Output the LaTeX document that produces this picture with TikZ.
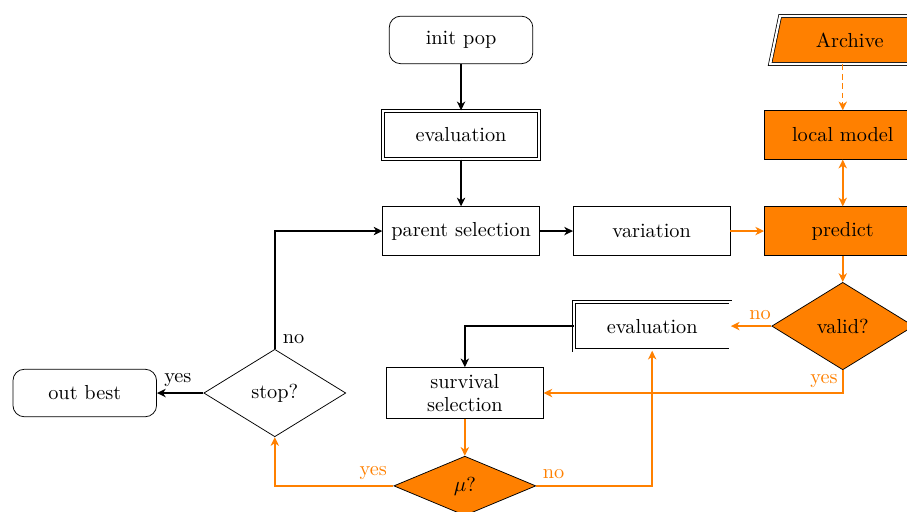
\documentclass[tikz,border=0pt]{standalone}
\usepackage{xcolor}
\usepackage{amsmath}
\usepackage{tikz}
\usetikzlibrary{shapes.geometric,arrows.meta}
\usetikzlibrary{positioning,calc}
\definecolor{SAEA_orange}{RGB}{255,128,0}
\tikzset{
  proc/.style={draw, rectangle, minimum width=2.9cm, minimum height=0.9cm, align=center},
  evalbox/.style={proc, double, double distance=1.2pt},
  term/.style={draw, rectangle, rounded corners=6pt, minimum width=2.66cm, minimum height=0.88cm},
  decision/.style={draw, diamond, minimum width=2.63cm, minimum height=1.62cm, inner sep=0pt},
  surr/.style={fill=SAEA_orange},
  flow/.style={->, >={Stealth[length=4.6pt, width=4.4pt, inset=1.4pt]}, line width=0.9pt},
  sflow/.style={flow, SAEA_orange},
}

\begin{document}
\begin{tikzpicture}[font=\fontsize{10.7pt}{12.6pt}\selectfont]
        \useasboundingbox (0,0) rectangle (16.8,9.48);
        % EA loop
        \node[term] (init) at (8.54,8.74) {init pop};
        \node[evalbox] (eval) at (8.54,6.98) {evaluation};
        \node[proc] (parent) at (8.54,5.20) {parent selection};
        \node[proc] (variation) at (12.07,5.20) {variation};
        \node[proc, minimum height=0.94cm] (survival) at (8.61,2.20) {survival\\selection};
        \node[decision] (stop) at (5.09,2.20) {stop?};
        \node[term] (out) at (1.57,2.20) {out best};
        % Surrogate part
        \node[draw, trapezium, trapezium left angle=70, trapezium right angle=110,
              trapezium stretches body, minimum width=2.95cm, minimum height=0.89cm,
              double, double distance=1.2pt, surr] (archive) at (15.74,8.74) {Archive};
        \node[proc, surr] (model) at (15.61,6.98) {local model};
        \node[proc, surr] (predict) at (15.61,5.20) {predict};
        \node[decision, surr] (valid) at (15.61,3.44) {valid?};
        \node[evalbox] (reeval) at (12.08,3.44) {evaluation};
        \node[decision, surr, minimum height=1.1cm] (mu) at (8.61,0.48) {$\mu$?};
        % Draw edges
        \draw[flow] (init) -- (eval);
        \draw[flow] (eval) -- (parent);
        \draw[flow] (parent) -- (variation);
        \draw[sflow] (variation) -- (predict);
        \draw[sflow, dash pattern=on 3pt off 2pt, line width=0.6pt] (archive.south -| model.north) -- (model.north);
        \draw[sflow, <->] (model) -- (predict);
        \draw[sflow] (predict) -- (valid);
        \draw[sflow] (valid) -- (reeval);
        \draw[sflow] (valid.south) |- (survival.east);
        \draw[flow] (reeval.west) -| (survival.north);
        \draw[sflow] (survival) -- (mu);
        \draw[sflow] (mu.east) -| (reeval.south);
        \draw[sflow] (mu.west) -| (stop.south);
        \draw[flow] (stop.north) |- (parent.west);
        \draw[flow] (stop.west) -- (out.east);
        % Label edges
        \node[above, SAEA_orange] (validno) at ($(valid.west)!0.28!(reeval.east)$) {no};
        \node[above left, SAEA_orange, inner sep=2.5pt] (validyes) at (valid.south |- survival.east) {yes};
        \node[above right, SAEA_orange] (muno) at (mu.east) {no};
        \node[above left, SAEA_orange] (muyes) at (mu.west) {yes};
        \node[above right, inner sep=2pt] (stopno) at ($(stop.north)+(0.07,0.02)$) {no};
        \node[above] (stopyes) at ($(stop.west)!0.55!(out.east)$) {yes};
\end{tikzpicture}
\end{document}
